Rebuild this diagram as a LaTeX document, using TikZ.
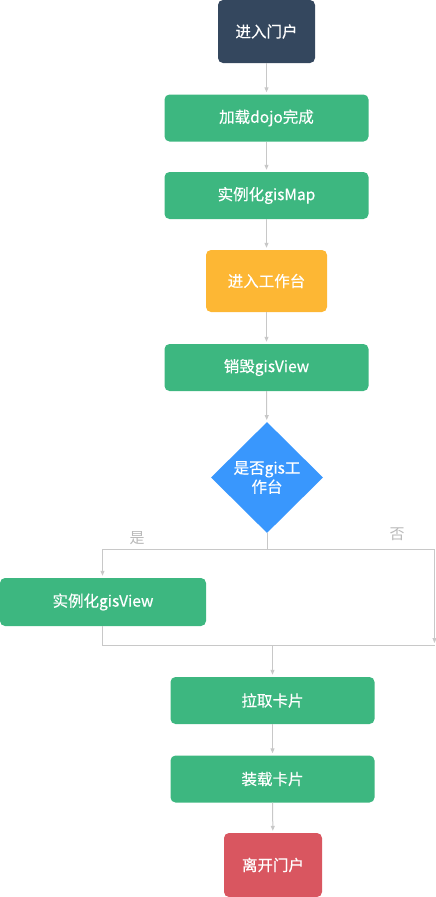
\documentclass[tikz,border=0pt]{standalone}
\usepackage{fontspec}
\newfontfamily\cjk[FakeBold=0.4]{Noto Sans CJK SC}
\newfontfamily\cjklight{Noto Sans CJK SC}
\usetikzlibrary{arrows.meta, positioning, shapes.geometric}
\definecolor{PortalSlate}{RGB}{52, 71, 94}
\definecolor{FlowGreen}{RGB}{61, 183, 128}
\definecolor{FlowOrange}{RGB}{253, 183, 52}
\definecolor{FlowBlue}{RGB}{57, 151, 253}
\definecolor{FlowRed}{RGB}{217, 86, 96}
\definecolor{LineGray}{RGB}{200, 200, 200}
\definecolor{NoteGray}{RGB}{185, 185, 185}

\begin{document}
\begin{tikzpicture}[x=1pt, y=-1pt, font=\cjk\fontsize{15.5}{19}\selectfont,
    box/.style={rounded corners=5pt, text=white, align=center, inner sep=0pt},
    darkbox/.style={box, fill=PortalSlate, minimum width=97pt, minimum height=63pt},
    greenbox/.style={box, fill=FlowGreen, minimum width=204pt, minimum height=47pt},
    orangebox/.style={box, fill=FlowOrange, minimum width=121pt, minimum height=62pt},
    redbox/.style={box, fill=FlowRed, minimum width=98pt, minimum height=64pt},
    choice/.style={diamond, fill=FlowBlue, text=white, align=center, inner sep=0pt, minimum width=112pt, minimum height=111pt},
    flow/.style={draw=LineGray, line width=1pt, -{Triangle[length=5pt, width=4pt]}, shorten >=2pt},
    note/.style={text=NoteGray, inner sep=0pt, font=\cjklight\fontsize{15}{19}\selectfont}
  ]
  \useasboundingbox (0,0) rectangle (436,897);

  \node[darkbox] (enter) at (266.5, 31.5) {进入门户};
  \node[greenbox] (dojo) at (266.5, 118) {加载dojo完成};
  \node[greenbox] (map) at (266.5, 195.5) {实例化gisMap};
  \node[orangebox] (bench) at (266.5, 281) {进入工作台};
  \node[greenbox] (destroy) at (266.5, 367.5) {销毁gisView};
  \node[choice] (judge) at (267, 477.5) {是否gis工\\作台};
  \node[greenbox, minimum width=206pt, minimum height=48pt] (inst) at (103, 602) {实例化gisView};
  \node[greenbox] (pull) at (272.5, 700.5) {拉取卡片};
  \node[greenbox] (load) at (272.5, 779) {装载卡片};
  \node[redbox] (leave) at (273, 865) {离开门户};

  \node[note] (yes) at (137, 538) {是};
  \node[note] (no) at (397, 534) {否};

  \coordinate (split) at (267, 549);
  \coordinate (nojoin) at (434.5, 645);
  \coordinate (merge) at (272.5, 645);

  \draw[flow] (enter) -- (dojo);
  \draw[flow] (dojo) -- (map);
  \draw[flow] (map) -- (bench);
  \draw[flow] (bench) -- (destroy);
  \draw[flow] (destroy) -- (judge);
  \draw[flow] (judge.south) -- (split) -| (inst.north -| 102.5,0);
  \draw[flow] (split) -| (nojoin);
  \draw[draw=LineGray, line width=1pt] (inst.south -| 102.5,0) |- (nojoin);
  \draw[flow] (merge) -- (pull);
  \draw[flow] (pull) -- (load);
  \draw[flow] (load) -- (leave);
\end{tikzpicture}
\end{document}
